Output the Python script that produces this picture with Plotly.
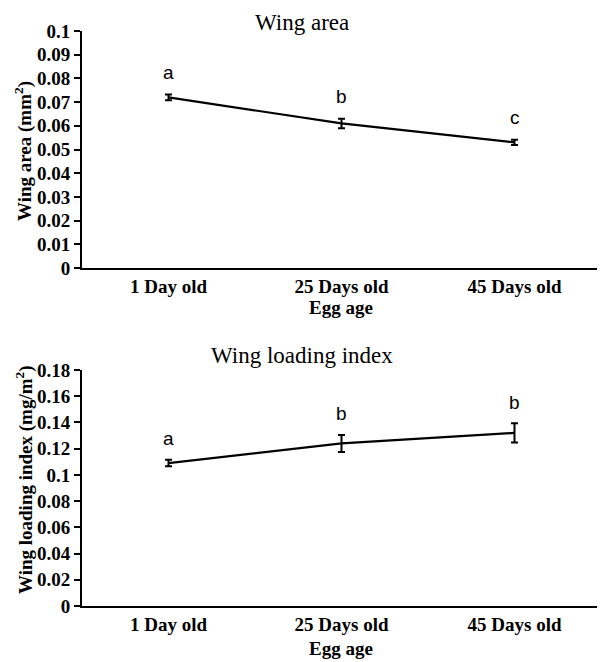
import plotly.graph_objects as go
from plotly.subplots import make_subplots

categories = ["1 Day old", "25 Days old", "45 Days old"]

wing_area = [0.072, 0.061, 0.053]
wing_area_err = [0.0012, 0.002, 0.0011]
wing_area_letters = ["a", "b", "c"]

wing_loading = [0.109, 0.124, 0.132]
wing_loading_err = [0.0025, 0.0065, 0.0073]
wing_loading_letters = ["a", "b", "b"]

area_ticks = [0, 0.01, 0.02, 0.03, 0.04, 0.05, 0.06, 0.07, 0.08, 0.09, 0.1]
area_tick_text = ["0", "0.01", "0.02", "0.03", "0.04", "0.05", "0.06", "0.07", "0.08", "0.09", "0.1"]
loading_ticks = [0, 0.02, 0.04, 0.06, 0.08, 0.1, 0.12, 0.14, 0.16, 0.18]
loading_tick_text = ["0", "0.02", "0.04", "0.06", "0.08", "0.1", "0.12", "0.14", "0.16", "0.18"]

SERIF = "Liberation Serif"
SANS = "Liberation Sans"

# page body has an 8px margin, so figure coords = screen coords - 8
OFF = 8
LEFT, RIGHT, TOP, BOTTOM = 82 - OFF, 601 - OFF, 31 - OFF, 606 - OFF
W, H = 605, 662
PH = BOTTOM - TOP
PW = RIGHT - LEFT


def py(ypx):
    return (BOTTOM - (ypx - OFF)) / PH


def px(xpx):
    return ((xpx - OFF) - LEFT) / PW


fig = make_subplots(rows=2, cols=1, vertical_spacing=0.0)

fig.add_trace(go.Scatter(
    x=categories, y=wing_area, mode="lines",
    line=dict(color="black", width=2.2),
    error_y=dict(type="data", array=wing_area_err, color="black", thickness=2, width=3.5),
    showlegend=False), row=1, col=1)

fig.add_trace(go.Scatter(
    x=categories, y=wing_loading, mode="lines",
    line=dict(color="black", width=2.2),
    error_y=dict(type="data", array=wing_loading_err, color="black", thickness=2, width=3.5),
    showlegend=False), row=2, col=1)

for c, v, e, t in zip(categories, wing_area, wing_area_err, wing_area_letters):
    fig.add_annotation(x=c, y=v + e, text=t, showarrow=False, yshift=22,
                       font=dict(family=SANS, size=19, color="black"), xref="x", yref="y")
for c, v, e, t in zip(categories, wing_loading, wing_loading_err, wing_loading_letters):
    fig.add_annotation(x=c, y=v + e, text=t, showarrow=False, yshift=21,
                       font=dict(family=SANS, size=19, color="black"), xref="x2", yref="y2")

# titles
fig.add_annotation(x=px(302), y=py(8), xref="paper", yref="paper", yanchor="top",
                   text="Wing area", showarrow=False, font=dict(family=SERIF, size=23, color="black"))
fig.add_annotation(x=px(302), y=py(355), xref="paper", yref="paper", yanchor="middle",
                   text="Wing loading index", showarrow=False, font=dict(family=SERIF, size=23, color="black"))

# x axis titles
fig.add_annotation(x=px(341), y=py(308), xref="paper", yref="paper", yanchor="middle",
                   text="<b>Egg age</b>", showarrow=False, font=dict(family=SERIF, size=19, color="black"))
fig.add_annotation(x=px(341), y=py(648), xref="paper", yref="paper", yanchor="middle",
                   text="<b>Egg age</b>", showarrow=False, font=dict(family=SERIF, size=19, color="black"))

# y axis titles
fig.add_annotation(x=px(23), y=py(151), xref="paper", yref="paper", xanchor="center", yanchor="middle",
                   textangle=-90, text="<b>Wing area (mm<sup>2</sup>)</b>", showarrow=False,
                   font=dict(family=SERIF, size=19, color="black"))
fig.add_annotation(x=px(24), y=py(480), xref="paper", yref="paper", xanchor="center", yanchor="middle",
                   textangle=-90, text="<b>Wing loading index (mg/m<sup>2</sup>)</b>", showarrow=False,
                   font=dict(family=SERIF, size=19, color="black"))

axis_common = dict(showline=True, linecolor="black", linewidth=2, showgrid=False, zeroline=False,
                   automargin=False)

fig.update_xaxes(**axis_common, range=[-0.5, 2.5], ticks="",
                 tickfont=dict(family=SERIF, size=19, color="black"),
                 tickprefix="<b>", ticksuffix="</b>")

fig.update_yaxes(**axis_common, ticks="outside", ticklen=6, tickcolor="black", tickwidth=2,
                 tickfont=dict(family=SERIF, size=19, color="black"))

fig.update_yaxes(row=1, col=1, range=[0, 0.1], tickvals=area_ticks,
                 ticktext=["<b>" + s + "</b>" for s in area_tick_text])
fig.update_yaxes(row=2, col=1, range=[0, 0.18], tickvals=loading_ticks,
                 ticktext=["<b>" + s + "</b>" for s in loading_tick_text])

fig.update_layout(
    width=W, height=H,
    margin=dict(l=LEFT, r=W - RIGHT, t=TOP, b=H - BOTTOM, autoexpand=False),
    plot_bgcolor="white", paper_bgcolor="white",
    xaxis=dict(domain=[0, 1]), xaxis2=dict(domain=[0, 1]),
    yaxis=dict(domain=[py(268), 1]), yaxis2=dict(domain=[0, py(370)]),
)

fig.write_html("out.html")
